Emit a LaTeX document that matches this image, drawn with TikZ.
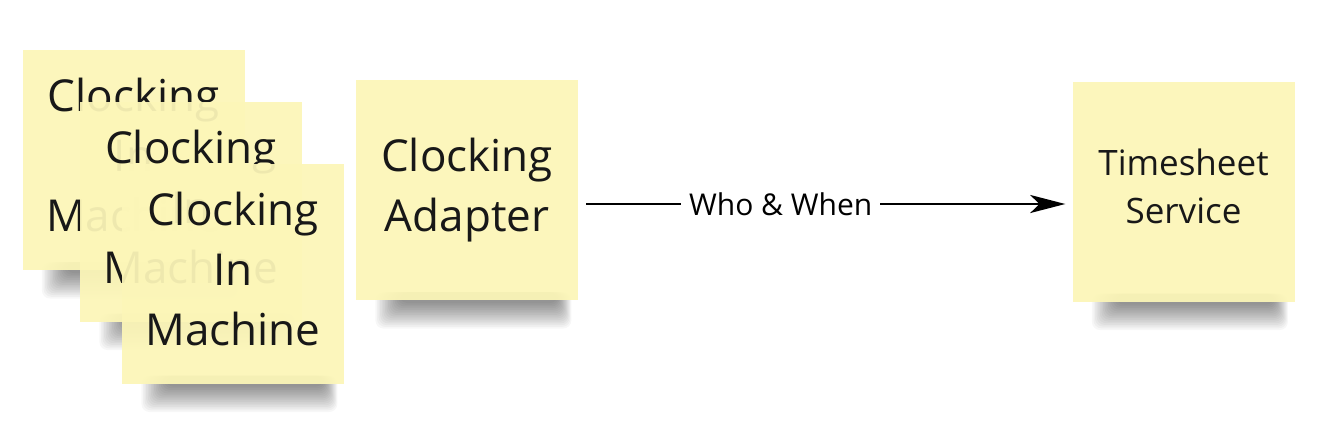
\documentclass[tikz,border=0pt]{standalone}
\usepackage{fontspec}
\setmainfont{Open Sans}
\usetikzlibrary{arrows.meta,calc}
\definecolor{notefill}{RGB}{252,246,184}
\definecolor{ink}{RGB}{24,24,24}
\pgfdeclarelayer{bg}
\pgfdeclarelayer{shade}
\pgfsetlayers{bg,shade,main}
\newcommand{\dropstrut}{\rule[-10pt]{0pt}{0pt}}
\newcommand{\noteshadow}[1]{%
  \begin{pgfonlayer}{shade}
    \foreach \i in {1,...,16}{
      \fill[black, opacity=0.032, rounded corners=8pt]
        ($(#1.south west)+(18+\i*1.6,-8)$) rectangle ($(#1.south east)+(-6-\i*0.9,30-\i*1.7)$);
    }
  \end{pgfonlayer}}
\begin{document}
\begin{tikzpicture}[x=1pt,y=-1pt,
  sticky/.style={fill=notefill, fill opacity=0.94, text opacity=1, text=ink,
    minimum width=222pt, minimum height=220pt, inner sep=0pt, align=center},
  bigtext/.style={font=\fontsize{44}{60}\selectfont},
  smalltext/.style={font=\fontsize{35}{48}\selectfont},
  flow/.style={-{Stealth[length=35pt,width=18pt,inset=9pt]}, line width=2.5pt, draw=black},
  flowlabel/.style={fill=white, text=black, inner xsep=8pt, inner ysep=2pt, font=\fontsize{30}{36}\selectfont}]
\useasboundingbox (0,0) rectangle (1338,440);
\begin{pgfonlayer}{bg}
\fill[white] (0,0) rectangle (1338,440);
\end{pgfonlayer}

\node[sticky, bigtext] (m1) at (133.5,160) {Clocking\\In\\Machine\dropstrut};
\noteshadow{m1}
\node[sticky, bigtext] (m2) at (191,211.5) {Clocking\\In\\Machine\dropstrut};
\noteshadow{m2}
\node[sticky, bigtext] (m3) at (233,273.5) {Clocking\\In\\Machine\dropstrut};
\noteshadow{m3}
\node[sticky, bigtext] (adapter) at (467,190) {Clocking\\Adapter\dropstrut};
\noteshadow{adapter}
\node[sticky, smalltext] (ts) at (1183.5,191.5) {Timesheet\\Service\dropstrut};
\noteshadow{ts}

\draw[flow] ([xshift=8pt,yshift=-14pt]adapter.east) -- node[flowlabel, pos=0.406] (lbl) {Who \& When} ([xshift=-7pt,yshift=-12.5pt]ts.west);
\end{tikzpicture}
\end{document}
